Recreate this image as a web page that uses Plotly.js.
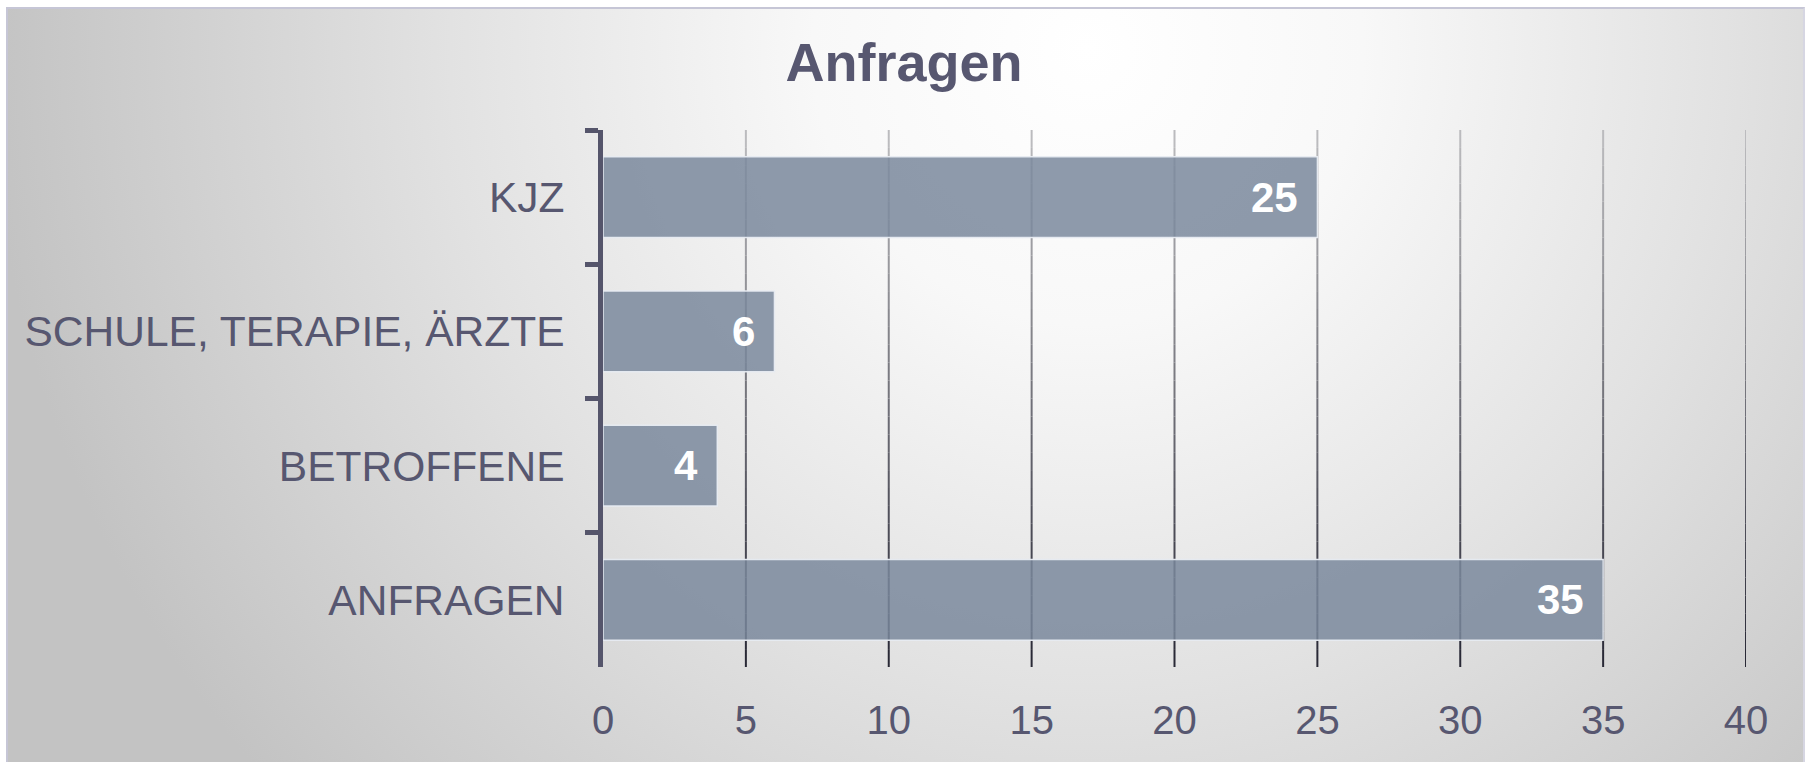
<!DOCTYPE html>
<html>
<head>
<meta charset="utf-8">
<script src="https://cdn.plot.ly/plotly-3.0.1.min.js"></script>
<style>
  html, body { margin: 0; padding: 0; background: #ffffff; width: 1808px; height: 762px; overflow: hidden; }
  #frame {
    position: absolute; left: 6px; top: 7px; width: 1795px; height: 755px;
    border-left: 2px solid #c6c6d6; border-top: 2px solid #c6c6d6; border-right: 2px solid #d6d6e2;
    background: radial-gradient(ellipse 1100px 1100px at 1080px 40px, #ffffff 0%, #f8f8f8 25%, #e2e2e2 58%, #c3c3c3 100%);
  }
  #chart { position: absolute; left: 0; top: 0; width: 1808px; height: 762px; }
</style>
</head>
<body>
<div id="frame"></div>
<div id="chart"></div>
<script>
// ---- data (top to bottom as shown) ----
const categories = ['KJZ', 'SCHULE, TERAPIE, ÄRZTE', 'BETROFFENE', 'ANFRAGEN'];
const values = [25, 6, 4, 35];
const xTickValues = [0, 5, 10, 15, 20, 25, 30, 35, 40];
const chartTitle = 'Anfragen';

const textColor = '#575770';
const fontFamily = 'Liberation Sans, Arial, sans-serif';

// gradient gridlines (dark at bottom, light at top), drawn at the tick positions
function lerp(a, b, t) { return Math.round(a + (b - a) * t); }
const shapes = [];
const N = 30;
xTickValues.filter(v => v > 0).forEach(v => {
  for (let i = 0; i < N; i++) {
    const t = (i + 0.5) / N;
    const c = 'rgb(' + lerp(38, 190, t) + ',' + lerp(38, 190, t) + ',' + lerp(52, 192, t) + ')';
    shapes.push({
      type: 'line', xref: 'x', yref: 'paper', layer: 'below',
      x0: v, x1: v, y0: i / N, y1: (i + 1) / N,
      line: { color: c, width: 2 }
    });
  }
});

const annotations = categories.map((c, i) => ({
  x: values[i], y: c, xref: 'x', yref: 'y',
  text: '<b>' + values[i] + '</b>', showarrow: false,
  xanchor: 'right', yanchor: 'middle', xshift: -17,
  font: { family: fontFamily, size: 42, color: '#ffffff' }
}));

const trace = {
  type: 'bar', orientation: 'h',
  y: categories, x: values,
  marker: { color: 'rgba(122,136,156,0.85)', line: { color: 'rgba(232,236,242,0.95)', width: 1.5 } },
  hoverinfo: 'x+y'
};

const layout = {
  width: 1808, height: 762,
  margin: { l: 603, r: 62, t: 130, b: 95 },
  paper_bgcolor: 'rgba(0,0,0,0)', plot_bgcolor: 'rgba(0,0,0,0)',
  title: { text: '<b>' + chartTitle + '</b>', xref: 'container', x: 0.5, y: 0.918, yref: 'container', yanchor: 'middle',
           font: { family: fontFamily, size: 54, color: textColor } },
  bargap: 0.4,
  showlegend: false,
  xaxis: {
    range: [0, 40], tickvals: xTickValues, ticktext: xTickValues.map(String),
    showgrid: false, zeroline: false, showline: false, ticks: '',
    ticklabelstandoff: 26,
    tickfont: { family: fontFamily, size: 40, color: textColor }
  },
  yaxis: {
    type: 'category', categoryorder: 'array', categoryarray: categories, autorange: 'reversed',
    showgrid: false, zeroline: false, showline: true, linewidth: 5, linecolor: '#55556b',
    ticks: 'outside', tickson: 'boundaries', ticklen: 13, tickwidth: 5, tickcolor: '#55556b',
    ticklabelstandoff: 25,
    tickfont: { family: fontFamily, size: 42.5, color: textColor }
  },
  shapes: shapes,
  annotations: annotations
};

Plotly.newPlot('chart', [trace], layout, { displayModeBar: false, staticPlot: true });
</script>
</body>
</html>
